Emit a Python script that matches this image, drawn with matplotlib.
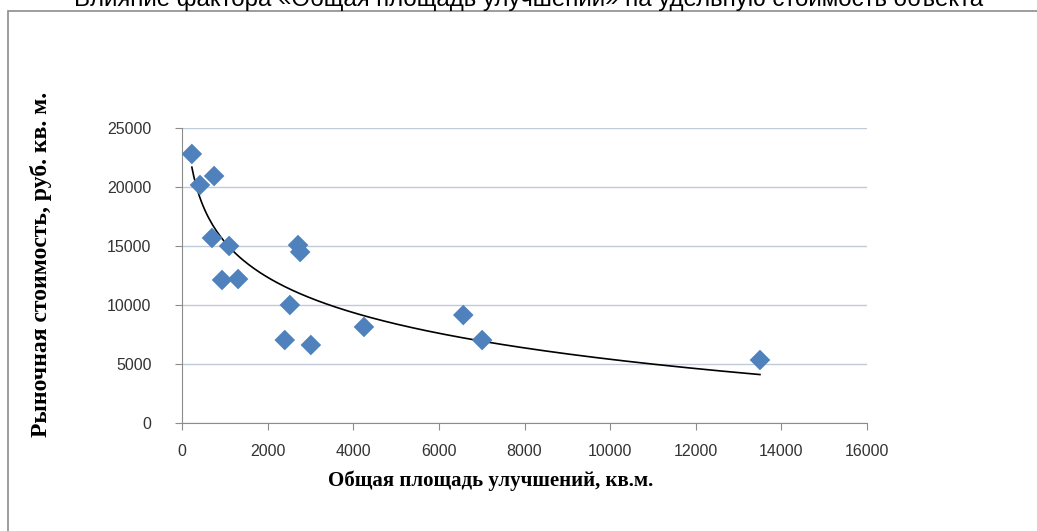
import matplotlib
matplotlib.use('Agg')
import matplotlib.pyplot as plt
import numpy as np
from matplotlib.patches import Rectangle

# Общая площадь улучшений, кв.м.
area = [230, 420, 750, 700, 1100, 935, 1310, 2520, 2400, 2710, 2760, 3010, 4250, 6570, 7010, 13500]
# Рыночная стоимость, руб. кв. м.
price = [22800, 20170, 20930, 15680, 15000, 12120, 12200, 10000, 7030, 15080, 14490, 6610, 8140, 9150, 7030, 5340]

x_ticks = [0, 2000, 4000, 6000, 8000, 10000, 12000, 14000, 16000]
y_ticks = [0, 5000, 10000, 15000, 20000, 25000]

title = 'Влияние фактора «Общая площадь улучшений» на удельную стоимость объекта'
x_label = 'Общая площадь улучшений, кв.м.'
y_label = 'Рыночная стоимость, руб. кв. м.'

fig = plt.figure(figsize=(10.37, 5.31), dpi=100)

# chart frame (partly outside the image, like the screenshot)
fig.patches.append(Rectangle((8 / 1037, -0.1), 1.2, 1.1 - 11 / 531, transform=fig.transFigure,
                             fill=False, edgecolor='#8c8c8c', linewidth=1.2))

fig.text(529 / 1037, 1.0 - 6 / 531, title, ha='center', va='baseline', fontsize=17.3,
         family='Liberation Sans', color='black')

ax = fig.add_axes([182 / 1037, 108 / 531, 685 / 1037, 295 / 531])

# logarithmic trend line, fitted on the data
a, b = np.polyfit(np.log(area), price, 1)
xs = np.linspace(min(area), max(area), 300)
ax.plot(xs, a * np.log(xs) + b, color='black', linewidth=1.2, zorder=2)

ax.scatter(area, price, marker='D', s=110, color='#4F81BD', edgecolors='none', zorder=3)

ax.set_xlim(0, 16000)
ax.set_ylim(0, 25000)
ax.set_xticks(x_ticks)
ax.set_yticks(y_ticks)
ax.grid(axis='y', color='#c0cbd8', linewidth=1)
ax.set_axisbelow(True)

for s in ['top', 'right']:
    ax.spines[s].set_visible(False)
for s in ['left', 'bottom']:
    ax.spines[s].set_color('#8c8c8c')

ax.tick_params(axis='both', colors='#8c8c8c', labelcolor='#333333', labelsize=11.5, length=5)
ax.tick_params(axis='x', pad=10)
ax.tick_params(axis='y', pad=17)
for lbl in ax.get_xticklabels() + ax.get_yticklabels():
    lbl.set_family('Liberation Sans')

ax.set_xlabel(x_label, fontsize=15, fontweight='bold', family='Liberation Serif', va='center')
ax.xaxis.set_label_coords(0.45, -0.197)
ax.set_ylabel(y_label, fontsize=17, fontweight='bold', family='Liberation Serif', va='center')
ax.yaxis.set_label_coords(-0.206, 0.539)

fig.savefig('out.png', dpi=100)
